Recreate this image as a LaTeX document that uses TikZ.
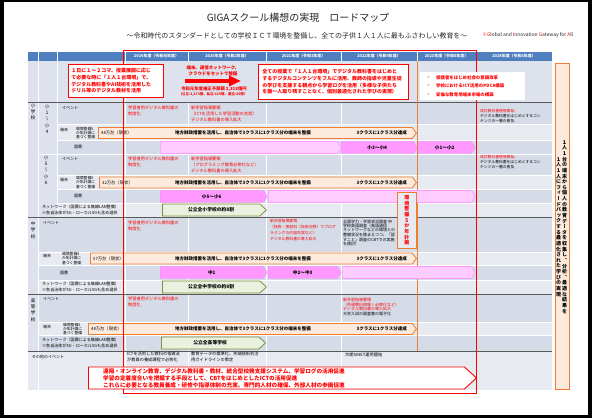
\documentclass[tikz,border=0pt]{standalone}
\usepackage{fontspec}
\setmainfont{Noto Sans CJK JP}
\newfontfamily\tatefont[RawFeature=+vert]{Noto Sans CJK JP}
\newfontfamily\dingfont{DejaVu Sans}
\usepackage{xcolor}
\usetikzlibrary{arrows.meta,shapes.symbols}
\definecolor{hdblue}{HTML}{4F7FBF}
\definecolor{rowtop}{HTML}{DDE2EC}
\definecolor{rowdark}{HTML}{D5DBE7}
\definecolor{rowlight}{HTML}{E7EAF1}
\definecolor{sepline}{HTML}{595959}
\definecolor{redc}{HTML}{FF0000}
\definecolor{orangeline}{HTML}{ED7D31}
\definecolor{peach}{HTML}{FCEBDD}
\definecolor{pinkfull}{HTML}{FF99FF}
\definecolor{pinkpale}{HTML}{FFCCFF}
\definecolor{pinkedge}{HTML}{FF80FF}
\definecolor{greenline}{HTML}{77933C}
\definecolor{greenfill}{HTML}{EBF1DE}
\definecolor{ink}{HTML}{262626}
\newlength\px \setlength\px{0.5mm}
\def\tatelist#1{\ifx\relax#1\else\hbox to 1em{\hss#1\hss}\expandafter\tatelist\fi}
\newcommand\tate[1]{\vbox{\tatelist#1\relax}}

\begin{document}
\begin{tikzpicture}[x=0.5mm, y=-0.5mm,
  hd/.style={font=\bfseries\color{white}\fontsize{5.6}{6.5}\selectfont, inner sep=0pt},
  evt/.style={anchor=north west, align=left, inner sep=0pt, font=\color{redc}\fontsize{6}{8.5}\selectfont},
  memo/.style={anchor=north west, align=left, inner sep=0pt, font=\color{black}\fontsize{5.6}{6.2}\selectfont},
  lbl/.style={anchor=west, inner sep=0pt, font=\color{black}\fontsize{5.7}{6.5}\selectfont},
  sublbl/.style={anchor=west, align=left, inner sep=0pt, font=\color{black}\fontsize{5.4}{6.1}\selectfont},
  netlbl/.style={anchor=west, align=left, inner sep=0pt, font=\color{black}\fontsize{5.8}{9.5}\selectfont},
  tatelbl/.style={inner sep=0pt, font=\tatefont\color{black}\fontsize{6.4}{9}\selectfont},
  bar/.style={signal, signal to=east, signal pointer angle=105, draw=orangeline, fill=peach, line width=1.2pt, inner sep=0pt, anchor=west, minimum height=11\px},
  bartxt/.style={inner sep=0pt, font=\bfseries\color{black}\fontsize{6.4}{7}\selectfont},
  kokuhi/.style={signal, signal to=east, signal pointer angle=115, fill=pinkfull, draw=pinkedge, line width=0.5pt, inner sep=0pt, anchor=west, minimum height=12\px, font=\bfseries\color{black}\fontsize{6.6}{7}\selectfont},
  kokuhipale/.style={kokuhi, fill=pinkpale, draw=pinkfull, line width=0.9pt},
  lan/.style={signal, signal to=east, signal pointer angle=85, fill=greenfill, draw=greenline, line width=1.1pt, inner sep=0pt, anchor=west, minimum height=12\px, font=\bfseries\color{black}\fontsize{6.8}{7}\selectfont},
  redbox/.style={draw=redc, line width=1.1pt, fill=white, anchor=north west, align=left, inner ysep=0pt, font=\bfseries\color{redc}\fontsize{7.1}{9.5}\selectfont}]
  \useasboundingbox (0,0) rectangle (592,418);
  \fill[black] (0,0) rectangle (592,418);
  \fill[white] (4,2) rectangle (588,415);

  \node[font=\color{ink}\fontsize{14.2}{16}\selectfont] (title) at (298,18) {GIGAスクール構想の実現　ロードマップ};
  \node[font=\color{ink}\fontsize{9.9}{12}\selectfont] (subtitle) at (297,35.5) {～令和時代のスタンダードとしての学校ＩＣＴ環境を整備し、全ての子供１人１人に最もふさわしい教育を～};
  \node[anchor=west, inner sep=0pt, font=\color{ink}\fontsize{7}{8}\selectfont] (giga) at (482,35.5) {\textcolor{redc}{※G}lobal and \textcolor{redc}{I}nnovation \textcolor{redc}{G}ateway for \textcolor{redc}{A}ll};

  % table grid
  \fill[hdblue] (28,52) rectangle (552,61);
  \fill[rowtop] (28,61) rectangle (552,102);
  \foreach \ya/\yb/\rowc in {102/124/rowdark, 124/140/rowlight, 140/154/rowdark, 154/175/rowdark, 175/189/rowlight, 189/203/rowdark, 203/217/rowlight, 217/252/rowdark, 252/265/rowlight, 265/280/rowdark, 280/294/rowlight, 294/322/rowdark, 322/335/rowlight, 335/351/rowdark, 351/390/rowlight}
    \fill[\rowc] (28,\ya) rectangle (552,\yb);
  \fill[rowtop] (28,102) rectangle (38,351);
  \fill[rowtop] (38,102) rectangle (57,217);
  \foreach \xx in {38,57,125,188,266,341,417,476}
    \draw[white, line width=0.7pt] (\xx,52) -- (\xx,61);
  \foreach \xx in {38,125}
    \draw[white, line width=0.7pt] (\xx,61) -- (\xx,390);
  \draw[white, line width=0.7pt] (57,61) -- (57,217);
  \foreach \xx in {188,266,341,476}
    \draw[white, line width=0.7pt] (\xx,102) -- (\xx,390);
  \foreach \yy in {124,140,175,189,203}
    \draw[white, line width=0.7pt] (57,\yy) -- (552,\yy);
  \foreach \yy in {154,252,265,280,322,335}
    \draw[white, line width=0.7pt] (38,\yy) -- (552,\yy);
  \foreach \yy in {102,217,294,351}
    \draw[sepline, line width=0.8pt] (28,\yy) -- (552,\yy);
  \draw[orangeline, line width=1pt] (417,61) -- (417,351);

  \foreach \xa/\xb/\yr in {125/188/2019年度（令和元年度）, 188/266/2020年度（令和2年度）, 266/341/2021年度（令和3年度）, 341/417/2022年度（令和4年度）, 417/476/2023年度（令和5年度）, 476/552/2024年度（令和6年度）}
    \node[hd] (yr\xa) at ({(\xa+\xb)/2},56.5) {\yr};

  % left labels
  \node[tatelbl] (elem) at (33,112) {\tate{小学校}};
  \node[tatelbl] (elemLow) at (47,119) {\tate{小１～小４}};
  \node[tatelbl] (elemUp) at (46,170) {\tate{小５～小６}};
  \node[tatelbl] (junior) at (33,230) {\tate{中学校}};
  \node[tatelbl] (high) at (33,310) {\tate{高等学校}};
  \node[lbl] (evLow) at (62,108) {イベント};
  \node[lbl] (evUp) at (62,159) {イベント};
  \node[lbl] (evJr) at (43,223) {イベント};
  \node[lbl] (evHs) at (43,299) {イベント};
  \node[lbl] (pcLowLbl) at (60,130) {端末};
  \node[sublbl] (pcLowSub) at (76,133) {環境整備5\\か年計画に\\基づく整備};
  \node[lbl] (pcUpLbl) at (60,179.5) {端末};
  \node[sublbl] (pcUpSub) at (76,182.5) {環境整備5\\か年計画に\\基づく整備};
  \node[lbl] (pcJrLbl) at (43,256) {端末};
  \node[sublbl] (pcJrSub) at (62,258.5) {環境整備5\\か年計画に\\基づく整備};
  \node[lbl] (pcHsLbl) at (43,326.5) {端末};
  \node[sublbl] (pcHsSub) at (63,329) {環境整備5\\か年計画に\\基づく整備};
  \node[lbl] (grLowLbl) at (74,146.5) {国費};
  \node[lbl] (grUpLbl) at (74,196) {国費};
  \node[lbl] (grJrLbl) at (60,272.5) {国費};
  \node[netlbl] (netUpLbl) at (42,210) {ネットワーク（国費による無線LAN整備）\\※各自治体が5G・ローカル5Gも含め選択};
  \node[netlbl] (netJrLbl) at (42,287) {ネットワーク（国費による無線LAN整備）\\※各自治体が5G・ローカル5Gも含め選択};
  \node[netlbl] (netHsLbl) at (42,343) {ネットワーク（国費による無線LAN整備）\\※各自治体が5G・ローカル5Gも含め選択};
  \node[lbl] (otherLbl) at (32,357) {その他のイベント};

  % events
  \node[evt] (evLow19) at (128,105.5) {学習者用デジタル教科書の\\制度化};
  \node[evt] (evLow20) at (191,105.5) {新学習指導要領\\（ICTを活用した学習活動の充実）\\デジタル教科書の導入拡大};
  \node[memo, font=\fontsize{5.4}{7.1}\selectfont] (evLow24) at (480,109) {\textcolor{redc}{改訂教科書使用開始、}\\デジタル教科書をはじめとするコン\\テンツの一層の普及};
  \node[evt] (evUp19) at (128,156.5) {学習者用デジタル教科書の\\制度化};
  \node[evt] (evUp20) at (191,156.5) {新学習指導要領\\（プログラミング教育必修化など）\\デジタル教科書の導入拡大};
  \node[memo, font=\fontsize{5.4}{7.1}\selectfont] (evUp24) at (480,155.5) {\textcolor{redc}{改訂教科書使用開始、}\\デジタル教科書をはじめとするコン\\テンツの一層の普及};
  \node[evt] (evJr19) at (128,220.5) {学習者用デジタル教科書の\\制度化};
  \node[evt, font=\color{redc}\fontsize{5.5}{8.5}\selectfont] (evJr21) at (270,219.5) {新学習指導要領\\（技術・家庭科（技術分野）でプログ\\ラミングの内容充実など）\\デジタル教科書の導入拡大};
  \node[memo, font=\fontsize{5.7}{6.1}\selectfont] (evJr22) at (343,219.5) {全国学力・学習状況調査 中\\学校英語調査（英語通信\\ネットワークなどの環境との\\[1.5pt]整備状況を踏まえつつ、「話\\すこと」調査のCBTでの実施\\を検討）};
  \node[evt] (evHs19) at (128,297) {学習者用デジタル教科書の\\制度化};
  \node[memo, font=\fontsize{5.7}{6.7}\selectfont] (evHs22) at (343,298) {\textcolor{redc}{新学習指導要領}\\\textcolor{redc}{（共通教科情報Ⅰ必修化など）}\\\textcolor{redc}{デジタル教科書の導入拡大}\\大学入試の調査書の電子化};
  \node[memo, font=\fontsize{6}{8.5}\selectfont] (other19) at (127,352) {ICTを活用した教科の指導法\\が教員の養成課程で必修化};
  \node[memo, font=\fontsize{6}{8.5}\selectfont] (other20) at (191,352) {教育データの標準化、先端技術利活\\用ガイドラインの策定};
  \node[memo, font=\fontsize{6}{8.5}\selectfont] (other22) at (345,353) {次期SINET運用開始};

  % devices
  \node[bar, minimum width=318\px] (pcLow) at (98,133) {};
  \node[bar, minimum width=317\px] (pcUp) at (99,182.5) {};
  \node[bar, minimum width=326\px] (pcJunior) at (90,258.5) {};
  \node[bar, minimum width=328\px] (pcHigh) at (88,329) {};
  \foreach \nm/\units in {pcLow/48, pcUp/32, pcJunior/57, pcHigh/48} {
    \node[bartxt, anchor=west, font=\color{black}\fontsize{6.1}{7}\selectfont] (\nm now) at ([xshift=1.5mm]\nm.west) {\units 万台（現状）};
    \node[bartxt] (\nm plan) at (243,0 |- \nm.west) {地方財政措置を活用し、自治体で3クラスに1クラス分の端末を整備};
    \node[bartxt, anchor=east] (\nm goal) at (407,0 |- \nm.west) {3クラスに1クラス分達成};
  }

  % national grants
  \node[kokuhipale, minimum width=181\px] (grantLowA) at (160,147.5) {};
  \node[kokuhi, minimum width=76\px] (grantLowB) at (341,147.5) {小3～小4};
  \node[kokuhi, minimum width=57\px] (grantLowC) at (418,147.5) {小1～小2};
  \node[kokuhi, minimum width=107\px] (grantUpA) at (160,196.5) {小5～小6};
  \node[kokuhipale, minimum width=207\px] (grantUpB) at (268,196.5) {};
  \node[kokuhi, minimum width=107\px] (grantJrA) at (160,272.5) {中1};
  \node[kokuhi, minimum width=73\px] (grantJrB) at (268,272.5) {中2～中3};
  \node[kokuhipale, minimum width=133\px] (grantJrC) at (342,272.5) {};

  \node[lan, minimum width=104\px] (lanUp) at (162,210) {公立全小学校の約8割};
  \node[lan, minimum width=104\px] (lanJr) at (162,287) {公立全中学校の約8割};
  \node[lan, minimum width=104\px] (lanHs) at (161,343) {公立全高等学校};

  \node[draw=orangeline, fill=rowlight, line width=1pt, minimum width=19\px, minimum height=56\px, inner sep=0pt, anchor=north west, font=\tatefont\bfseries\color{redc}\fontsize{7}{8.1}\selectfont] (plan5) at (397,192) {\tate{環境整備５か年計画}};

  \draw[redc, line width=1.3pt] (123,50) rectangle (476,393);

  % top row
  \node[redbox, text width=89\px, inner xsep=3\px, minimum height=33\px] (boxNow) at (68,64) {１日に１～２コマ、授業展開に応じ\\て必要な時に「１人１台環境」で、\\デジタル教科書やAI技術を活用した\\ドリル等のデジタル教材を活用};
  \node[font=\bfseries\color{redc}\fontsize{6.3}{8.5}\selectfont, align=center] (setmsg) at (213,71) {端末、通信ネットワーク、\\クラウドをセットで整備};
  \coordinate (pushFrom) at (185,81);
  \coordinate (pushTo) at (241,81);
  \draw[redc, line width=4\px, -{Triangle[length=6mm, width=5mm]}] (pushFrom) -- (pushTo);
  \node[font=\bfseries\color{redc}\fontsize{6.2}{7}\selectfont] (budget) at (214,89) {令和元年度補正予算額 2,318億円};
  \node[font=\bfseries\color{redc}\fontsize{4.9}{6}\selectfont] (budgetSplit) at (213,94.5) {（公立:2,173億、私立:119億、国立:26億）};
  \node[redbox, text width=142\px, inner xsep=4\px, minimum height=35\px] (boxFull) at (258,64) {全ての授業で「１人１台環境」でデジタル教科書をはじめと\\するデジタルコンテンツをフルに活用、教師の指導や児童生徒\\の学びを支援する観点から学習ログを活用（多様な子供たち\\を誰一人取り残すことなく、個別最適化された学びの実現）};
  \node[fill=white, inner sep=0pt, minimum width=105\px, minimum height=28\px, anchor=north west] (policy) at (420,72) {};
  \foreach \yy/\msg in {77.5/保護者をはじめ社会の意識改革, 86/学校におけるICT活用のPDCA構築, 94.5/安価な教育用端末市場の構築} {
    \node[anchor=west, inner sep=0pt, font=\dingfont\color{redc}\fontsize{5}{6}\selectfont] (mark\yy) at (427,\yy) {➢};
    \node[anchor=west, inner sep=0pt, font=\bfseries\color{redc}\fontsize{6.3}{7}\selectfont] (policy\yy) at (436,\yy) {\msg};
  }

  % vision
  \node[draw=orangeline, fill=peach, line width=1.1pt, minimum width=14\px, minimum height=326\px, anchor=north west, inner sep=0pt] (vision) at (554.5,63) {};
  \node[inner sep=0pt, font=\tatefont\bfseries\fontsize{7.1}{8}\selectfont] (visionR) at (564.5,227) {\tate{１人１台の端末から個人の教育データを収集し、分析、最適な結果を}};
  \node[inner sep=0pt, font=\tatefont\bfseries\fontsize{7.1}{8}\selectfont] (visionL) at (558.5,227) {\tate{１人１人にフィードバックする最適化された学びの実現}};

  % bottom
  \node[signal, signal to=east, signal pointer angle=85, draw=redc, fill=white, line width=1.3pt, minimum width=388\px, minimum height=22\px, anchor=west, inner sep=0pt] (ictGoal) at (88,378) {};
  \node[anchor=west, align=left, inner sep=0pt, font=\bfseries\color{redc}\fontsize{8}{10}\selectfont] (ictGoalTxt) at (103,378) {遠隔・オンライン教育、デジタル教科書・教材、統合型校務支援システム、学習ログの活用促進\\学習の定着度合いを把握する手段として、CBTをはじめとしたICTの活用促進\\これらに必要となる教員養成・研修や指導体制の充実、専門的人材の確保、外部人材の参画促進};
\end{tikzpicture}
\end{document}
